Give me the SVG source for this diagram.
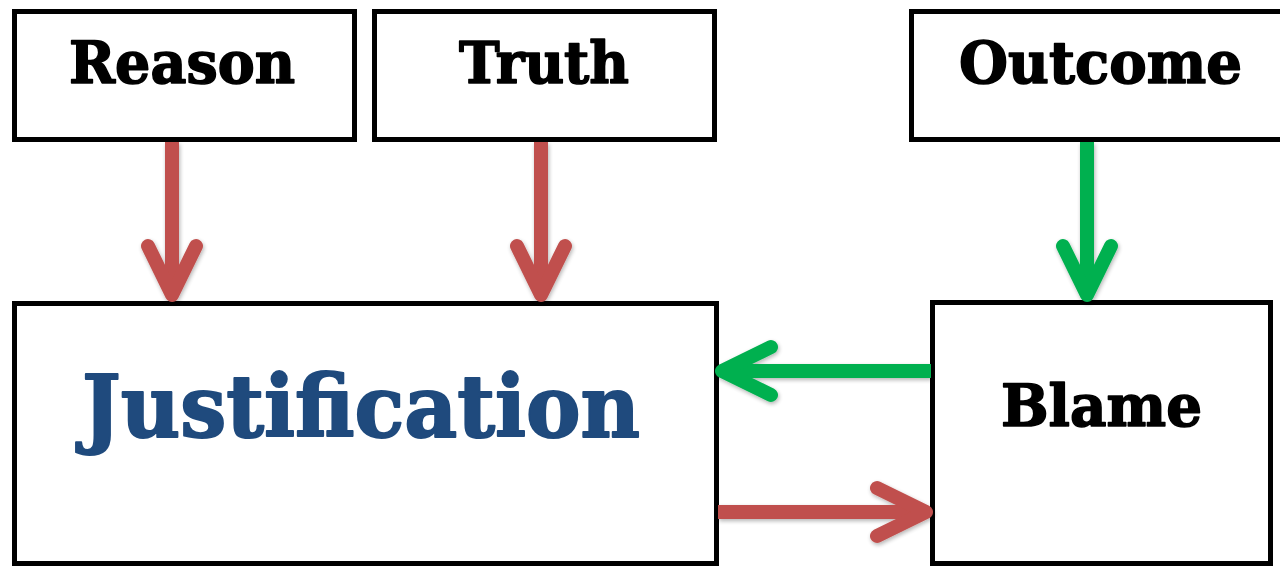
<svg xmlns="http://www.w3.org/2000/svg" width="1280" height="568" viewBox="0 0 1280 568">
  <style>
    .box { fill: #ffffff; stroke: #000000; stroke-width: 5; }
    .lbl { font-family: "DejaVu Serif", "Liberation Serif", serif; font-weight: bold; fill: #000000; stroke: #000000; stroke-width: 1.6; stroke-linejoin: round; text-anchor: start; }
    .blue { fill: #1F4A7D; stroke: #1F4A7D; stroke-width: 2; }
    .edge { filter: url(#shadow); }
    .arrow { fill: none; stroke-width: 14; }
    .shaft { stroke-linecap: butt; }
    .head { stroke-linecap: round; stroke-linejoin: round; }
    .red { stroke: #C0504D; }
    .green { stroke: #00B050; }
  </style>
  <defs>
    <filter id="shadow" filterUnits="userSpaceOnUse" x="0" y="0" width="1280" height="568">
      <feGaussianBlur in="SourceAlpha" stdDeviation="2"/>
      <feOffset dx="1" dy="2" result="b"/>
      <feComponentTransfer><feFuncA type="linear" slope="0.3"/></feComponentTransfer>
      <feMerge><feMergeNode/><feMergeNode in="SourceGraphic"/></feMerge>
    </filter>
  </defs>
  <rect width="1280" height="568" fill="#ffffff"/>

  <g id="node-reason">
    <rect class="box" x="14.5" y="11.5" width="340" height="128"/>
    <text class="lbl" x="69" y="83" font-size="58" textLength="226" lengthAdjust="spacingAndGlyphs">Reason</text>
  </g>
  <g id="node-truth">
    <rect class="box" x="374.5" y="11.5" width="340" height="128"/>
    <text class="lbl" x="459" y="83" font-size="58" textLength="170" lengthAdjust="spacingAndGlyphs">Truth</text>
  </g>
  <g id="node-outcome">
    <rect class="box" x="911.5" y="11.5" width="380" height="128"/>
    <text class="lbl" x="959" y="83" font-size="58" textLength="283" lengthAdjust="spacingAndGlyphs">Outcome</text>
  </g>
  <g id="node-justification">
    <rect class="box" x="14.5" y="303.5" width="702" height="260"/>
    <text class="lbl blue" x="82" y="437" font-size="86" textLength="558" lengthAdjust="spacingAndGlyphs">Justification</text>
  </g>
  <g id="node-blame">
    <rect class="box" x="932.5" y="302.5" width="338" height="261"/>
    <text class="lbl" x="1001" y="426" font-size="58" textLength="201" lengthAdjust="spacingAndGlyphs">Blame</text>
  </g>

  <g id="connectors">
    <g id="edge-reason-justification" class="edge">
      <path class="arrow shaft red" d="M172 142 V290"/>
      <path class="arrow head red" d="M148 246 L172 295 L196 246"/>
    </g>
    <g id="edge-truth-justification" class="edge">
      <path class="arrow shaft red" d="M541 142 V290"/>
      <path class="arrow head red" d="M517 246 L541 295 L565 246"/>
    </g>
    <g id="edge-outcome-blame" class="edge">
      <path class="arrow shaft green" d="M1087 142 V290"/>
      <path class="arrow head green" d="M1063 246 L1087 295 L1111 246"/>
    </g>
    <g id="edge-blame-justification" class="edge">
      <path class="arrow shaft green" d="M931 371 H727"/>
      <path class="arrow head green" d="M771 347 L722 371 L771 395"/>
    </g>
    <g id="edge-justification-blame" class="edge">
      <path class="arrow shaft red" d="M718 512 H921"/>
      <path class="arrow head red" d="M877 488 L926 512 L877 536"/>
    </g>
  </g>
</svg>
